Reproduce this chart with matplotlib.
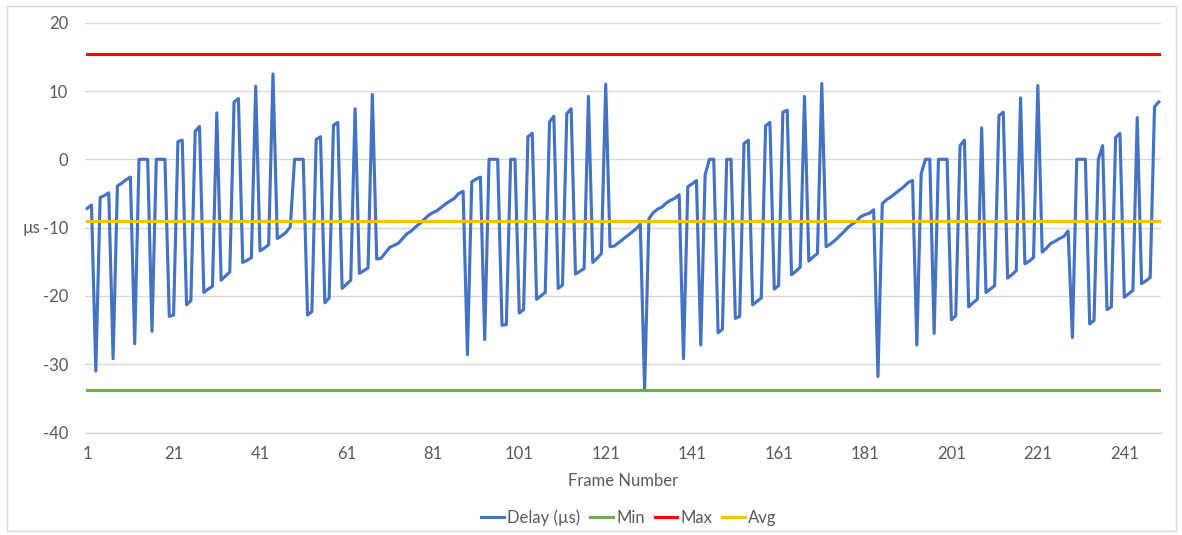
import matplotlib
matplotlib.use("Agg")
import matplotlib.pyplot as plt
from matplotlib.patches import Rectangle

# measured delay per frame, microseconds
delay_us = [
    -7.2, -6.7, -31.0, -5.6, -5.3, -4.9, -29.2, -3.9, -3.5, -3.0,
    -2.6, -27.0, 0.0, 0.0, 0.0, -25.2, 0.0, 0.0, 0.0, -23.0,
    -22.8, 2.6, 2.8, -21.3, -20.7, 4.1, 4.8, -19.5, -19.0, -18.6,
    6.8, -17.7, -17.1, -16.5, 8.4, 8.9, -15.1, -14.8, -14.4, 10.7,
    -13.4, -13.0, -12.5, 12.5, -11.6, -11.2, -10.7, -9.9, 0.0, 0.0,
    0.0, -22.8, -22.3, 2.9, 3.3, -21.0, -20.3, 5.0, 5.4, -18.9,
    -18.3, -17.7, 7.4, -16.7, -16.3, -15.9, 9.5, -14.6, -14.5, -13.7,
    -12.9, -12.6, -12.3, -11.6, -10.9, -10.5, -9.9, -9.4, -8.8, -8.2,
    -7.8, -7.5, -7.0, -6.5, -6.1, -5.7, -5.0, -4.7, -28.6, -3.3,
    -2.9, -2.6, -26.4, 0.0, 0.0, 0.0, -24.3, -24.2, 0.0, 0.0,
    -22.5, -22.0, 3.3, 3.8, -20.5, -20.0, -19.5, 5.5, 6.3, -18.9,
    -18.4, 6.7, 7.4, -16.8, -16.4, -16.0, 9.2, -15.1, -14.5, -13.8,
    11.0, -12.8, -12.7, -12.2, -11.7, -11.2, -10.7, -10.2, -9.5, -33.8,
    -8.7, -7.8, -7.3, -7.0, -6.4, -6.0, -5.7, -5.2, -29.2, -4.0,
    -3.6, -3.1, -27.2, -2.3, 0.0, 0.0, -25.4, -24.9, 0.0, 0.0,
    -23.3, -23.0, 2.3, 2.8, -21.3, -20.8, -20.3, 4.9, 5.4, -19.0,
    -18.5, 6.9, 7.2, -16.9, -16.4, -15.8, 9.2, -14.9, -14.3, -13.8,
    11.1, -12.8, -12.4, -11.9, -11.3, -10.7, -10.0, -9.5, -9.1, -8.4,
    -8.1, -7.9, -7.4, -31.8, -6.5, -5.9, -5.5, -5.0, -4.5, -4.0,
    -3.4, -3.1, -27.2, -2.1, 0.0, 0.0, -25.5, 0.0, 0.0, 0.0,
    -23.5, -22.9, 2.0, 2.8, -21.6, -21.0, -20.5, 4.6, -19.5, -19.0,
    -18.5, 6.4, 6.9, -17.4, -16.9, -16.3, 9.0, -15.3, -14.9, -14.4,
    10.8, -13.6, -13.0, -12.3, -12.0, -11.6, -11.3, -10.5, -26.1, 0.0,
    0.0, 0.0, -24.1, -23.6, 0.0, 2.0, -22.0, -21.6, 3.2, 3.8,
    -20.2, -19.7, -19.2, 6.1, -18.2, -17.8, -17.3, 7.7, 8.4,
]
frame_numbers = list(range(1, len(delay_us) + 1))

min_us = -33.8
max_us = 15.4
avg_us = -9.1

x_ticks = list(range(1, 242, 20))
y_ticks = [-40, -30, -20, -10, 0, 10, 20]

plt.rcParams['font.family'] = ['Lato', 'DejaVu Sans']
plt.rcParams['axes.unicode_minus'] = False

W, H = 1182, 535
fig = plt.figure(figsize=(W / 100, H / 100), dpi=100)
ax = fig.add_axes([85 / W, 1 - 432.5 / H, (1161 - 85) / W, (432.5 - 22.7) / H])

n = len(frame_numbers)
ax.plot(frame_numbers, delay_us, color='#4472C4', lw=2.25,
        solid_joinstyle='round', label='Delay (µs)')
ax.plot(frame_numbers, [min_us] * n, color='#70AD47', lw=2.25, label='Min')
ax.plot(frame_numbers, [max_us] * n, color='#FF0000', lw=2.25, label='Max')
ax.plot(frame_numbers, [avg_us] * n, color='#FFC000', lw=2.25, label='Avg')

ax.set_xlim(0.5, n + 0.5)
ax.set_ylim(-40, 20)
ax.set_xticks(x_ticks)
ax.set_yticks(y_ticks)

ax.yaxis.grid(True, color='#D9D9D9', lw=1)
ax.set_axisbelow(True)
for side in ('top', 'right', 'left'):
    ax.spines[side].set_visible(False)
ax.spines['bottom'].set_color('#D9D9D9')
ax.spines['bottom'].set_linewidth(1)

fs = 12
ax.tick_params(axis='both', length=0, labelsize=fs, labelcolor='#595959')
ax.tick_params(axis='y', pad=12)
ax.tick_params(axis='x', pad=10)

ax.set_ylabel('µs', rotation=0, fontsize=fs, color='#595959', va='center', ha='center')
ax.yaxis.set_label_coords(-0.05, 0.5)
ax.set_xlabel('Frame Number', fontsize=fs, color='#595959', va='center')
ax.xaxis.set_label_coords(0.5, -0.118)

fig.legend(loc='center', bbox_to_anchor=(629 / W, 1 - 518 / H), ncol=4,
           frameon=False, fontsize=fs, labelcolor='#595959',
           handlelength=1.35, handletextpad=0.2, columnspacing=0.6)

fig.patches.append(Rectangle((7 / W, 1 - 531 / H), (1176 - 7) / W, (531 - 6) / H,
                             transform=fig.transFigure, fill=False,
                             edgecolor='#D9D9D9', lw=1))

fig.savefig('out.png', dpi=100)
